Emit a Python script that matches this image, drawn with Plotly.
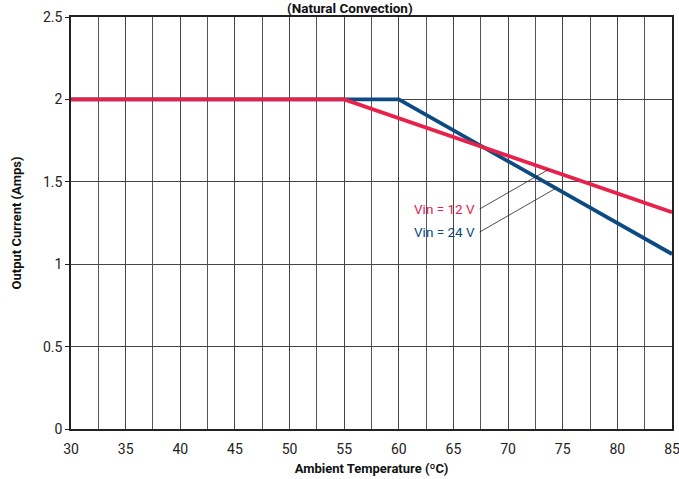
import plotly.graph_objects as go

# Data
temp_12v = [30, 55, 85]
current_12v = [2.0, 2.0, 1.315]
temp_24v = [30, 60, 85]
current_24v = [2.0, 2.0, 1.062]

label_names = ["Vin = 12 V", "Vin = 24 V"]
label_colors = ["#e8214b", "#0b4a82"]
label_text_x = [67.2, 67.2]
label_text_y = [1.335, 1.195]
leader_tip_x = [73.7, 74.3]
leader_tip_y = [1.575, 1.458]

FONT = "Roboto, Liberation Sans, sans-serif"

fig = go.Figure()
fig.add_trace(go.Scatter(x=temp_24v, y=current_24v, mode="lines",
                         line=dict(color="#0b4a82", width=3.8), showlegend=False))
fig.add_trace(go.Scatter(x=temp_12v, y=current_12v, mode="lines",
                         line=dict(color="#e8214b", width=3.8), showlegend=False))

for name, col, tx, ty, px, py in zip(label_names, label_colors, label_text_x,
                                     label_text_y, leader_tip_x, leader_tip_y):
    fig.add_shape(type="line", xref="x", yref="y", x0=tx + 0.2, y0=ty,
                  x1=px, y1=py, line=dict(color="#222222", width=0.8))
    fig.add_annotation(x=tx, y=ty, xref="x", yref="y", text=name,
                       showarrow=False, xanchor="right", yanchor="middle",
                       font=dict(family=FONT, size=13.5, color=col))

fig.add_annotation(x=0.465, y=1.0, xref="paper", yref="paper",
                   text="<b>(Natural Convection)</b>", showarrow=False,
                   xanchor="center", yanchor="bottom", yshift=-1,
                   font=dict(family=FONT, size=13.5, color="#111111"))

fig.update_layout(
    width=679, height=479,
    margin=dict(l=70.5, r=7.3, t=17, b=50, autoexpand=False),
    plot_bgcolor="white", paper_bgcolor="white",
    font=dict(family=FONT, size=14, color="#222222"),
    xaxis=dict(range=[30, 85], dtick=5, tick0=30, showgrid=True,
               gridcolor="#444444", gridwidth=1,
               minor=dict(dtick=2.5, showgrid=True, gridcolor="#555555", gridwidth=1),
               showline=True, linecolor="#222222", linewidth=1.5, mirror=True,
               ticks="", zeroline=False, automargin=False,
               ticklabeloverflow="allow", ticklabelstandoff=6,
               title=dict(text="<b>Ambient Temperature (ºC)</b>", standoff=8,
                          font=dict(family=FONT, size=13, color="#111111"))),
    yaxis=dict(range=[0, 2.5], dtick=0.5, showgrid=True,
               gridcolor="#444444", gridwidth=1,
               showline=True, linecolor="#222222", linewidth=1.5, mirror=True,
               ticks="outside", ticklen=4, tickcolor="#222222", zeroline=False,
               automargin=False,
               title=dict(text="<b>Output Current (Amps)</b>", standoff=18,
                          font=dict(family=FONT, size=13, color="#111111"))),
)

fig.write_html("out.html", config={"displayModeBar": False},
               post_script="document.body.style.margin='0';document.body.style.overflow='hidden';")
